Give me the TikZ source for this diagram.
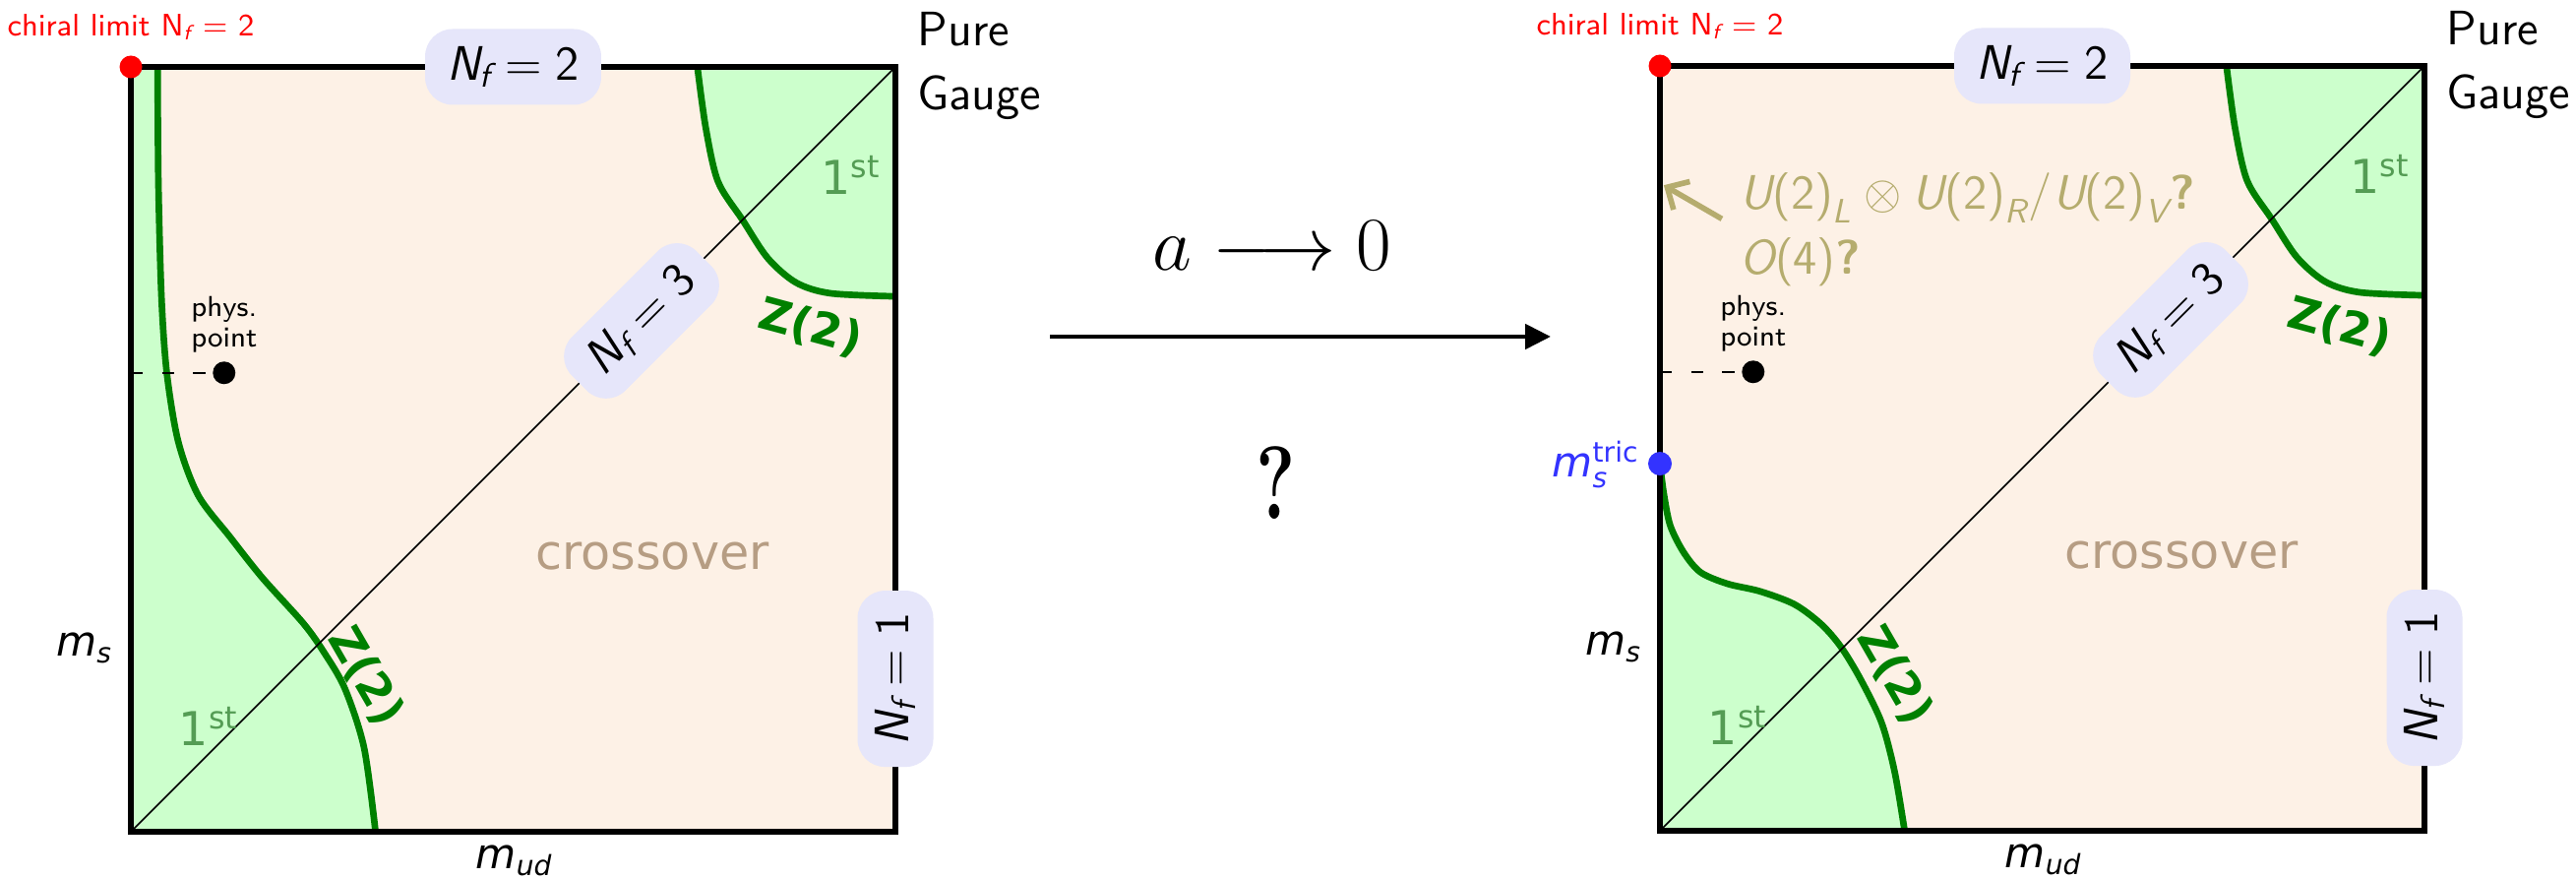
\documentclass[tikz,border=0pt]{standalone}
\usepackage{fix-cm}
\usepackage{amsmath}
\usepackage{fontspec}
\newfontfamily\dejavu{DejaVu Sans}[ItalicFont={DejaVu Sans Oblique},BoldFont={DejaVu Sans Bold},BoldItalicFont={DejaVu Sans Bold Oblique}]
\usetikzlibrary{arrows.meta}
\definecolor{bgpeach}{RGB}{253,241,230}
\definecolor{greenfill}{RGB}{204,255,204}
\definecolor{zgreen}{RGB}{0,128,0}
\definecolor{firstgreen}{RGB}{84,156,84}
\definecolor{crosscol}{RGB}{182,157,131}
\definecolor{lav}{RGB}{230,230,250}
\definecolor{olivec}{RGB}{181,172,110}
\definecolor{tricblue}{RGB}{51,51,255}
\newcommand{\mi}[1]{\text{\sffamily\itshape #1}}
\newcommand{\mr}[1]{\text{\sffamily #1}}
\newcommand{\dm}[1]{\text{\dejavu\itshape #1}}
\newcommand{\Nfeq}[1]{$\mi{N}_{\mi{f}}=\mr{#1}$}
\newcommand{\firstord}{1\raisebox{0.36em}{\fontsize{9}{10}\selectfont st}}
\tikzset{
  nfbox/.style={fill=lav, rounded corners=0.28cm, minimum height=0.77cm, inner xsep=0.22cm, inner ysep=0pt, font=\fontsize{14}{17}\selectfont},
  dotnode/.style={circle, inner sep=0pt, minimum size=0.23cm},
  zcurve/.style={zgreen, line width=1.9pt},
  frame/.style={line width=1.9pt},
  diag/.style={line width=0.45pt},
  firstlbl/.style={text=firstgreen, font=\dejavu\fontsize{13.5}{16}\selectfont, inner sep=0pt},
  zlbl/.style={text=zgreen, font=\dejavu\bfseries\fontsize{13}{15}\selectfont, inner sep=0pt},
  axislbl/.style={font=\fontsize{12}{14}\selectfont, inner sep=0pt},
  physdash/.style={dash pattern=on 3.5pt off 5.5pt, line width=0.7pt},
}
\newcommand{\toprightregion}{%
  \fill[greenfill] (1,1) -- plot[smooth] coordinates {(0.741,1.0) (0.752,0.92) (0.768,0.85) (0.80,0.80) (0.833,0.75) (0.87,0.718) (0.915,0.704) (1.0,0.70)} -- cycle;
  \draw[zcurve] plot[smooth] coordinates {(0.741,1.0) (0.752,0.92) (0.768,0.85) (0.80,0.80) (0.833,0.75) (0.87,0.718) (0.915,0.704) (1.0,0.70)};
}
\newcommand{\frontparts}[1]{%
  \coordinate (#1-bl) at (0,0);
  \coordinate (#1-tr) at (1,1);
  \draw[diag] (#1-bl) -- (#1-tr);
  \draw[frame] (0,0) rectangle (1,1);
  \coordinate (#1-yd) at (0,0.6);
  \node[dotnode, fill=black] (#1-phys) at (0.122,0.6) {};
  \draw[physdash] (#1-yd) -- (#1-phys);
  \node[above=0.2cm, inner sep=0pt, align=center, font=\sffamily\fontsize{8.3}{8.8}\selectfont] (#1-physlbl) at (#1-phys.center) {phys.\\point};
  \node[nfbox] (#1-nf2) at (0.5,1) {\Nfeq{2}};
  \node[nfbox, rotate=45] (#1-nf3) at (0.668,0.668) {\Nfeq{3}};
  \node[nfbox, rotate=90] (#1-nf1) at (1,0.2) {\Nfeq{1}};
  \node[dotnode, fill=red] (#1-chiral) at (0,1) {};
  \node[anchor=base, inner sep=0pt, text=red, font=\sffamily\fontsize{9}{11}\selectfont] (#1-chirallbl) at ([yshift=0.31cm]#1-chiral.center) {chiral limit N$_{\mi{f}}$ = 2};
  \node[anchor=base west, inner sep=0pt, font=\sffamily\fontsize{14}{17}\selectfont] (#1-pure) at ([xshift=0.22cm, yshift=0.21cm]#1-tr) {Pure};
  \node[anchor=base west, inner sep=0pt, font=\sffamily\fontsize{14}{17}\selectfont] (#1-gauge) at ([xshift=0.22cm, yshift=-0.44cm]#1-tr) {Gauge};
  \node[text=crosscol, inner sep=0pt, font=\dejavu\fontsize{14}{17}\selectfont] (#1-cross) at (0.682,0.36) {crossover};
  \node[firstlbl] (#1-firstA) at (0.941,0.858) {\firstord};
  \node[firstlbl] (#1-firstB) at (0.101,0.138) {\firstord};
  \node[zlbl, rotate=-15] (#1-zA) at (0.889,0.659) {Z(2)};
  \node[zlbl, rotate=-60] (#1-zB) at (0.307,0.203) {Z(2)};
  \node[axislbl] (#1-ms) at (-0.0605,0.24) {$\dm{m}_{\dm{s}}$};
  \node[axislbl] (#1-mud) at (0.502,-0.038) {$\dm{m}_{\dm{ud}}$};
}
\begin{document}
\begin{tikzpicture}
\useasboundingbox (0,0) rectangle (26.18,8.93);
\fill[white] (0,0) rectangle (26.18,8.93);

% left diagram
\begin{scope}[shift={(1.33,0.48)}, x=7.77cm, y=7.77cm]
  \fill[bgpeach] (0,0) rectangle (1,1);
  \fill[greenfill] (0,0) -- (0,1) -- plot[smooth] coordinates {(0.035,1.0) (0.036,0.85) (0.040,0.70) (0.047,0.60) (0.062,0.51) (0.088,0.44) (0.13,0.385) (0.172,0.332) (0.226,0.272) (0.253,0.234) (0.28,0.187) (0.305,0.11) (0.32,0)} -- cycle;
  \draw[zcurve] plot[smooth] coordinates {(0.035,1.0) (0.036,0.85) (0.040,0.70) (0.047,0.60) (0.062,0.51) (0.088,0.44) (0.13,0.385) (0.172,0.332) (0.226,0.272) (0.253,0.234) (0.28,0.187) (0.305,0.11) (0.32,0)};
  \toprightregion
  \frontparts{L}
\end{scope}

% right diagram
\begin{scope}[shift={(16.87,0.49)}, x=7.77cm, y=7.77cm]
  \fill[bgpeach] (0,0) rectangle (1,1);
  \fill[greenfill] (0,0) -- plot[smooth] coordinates {(0,0.48) (0.005,0.441) (0.0135,0.399) (0.031,0.364) (0.053,0.338) (0.088,0.323) (0.131,0.313) (0.176,0.296) (0.211,0.27) (0.237,0.24) (0.263,0.197) (0.29,0.141) (0.307,0.077) (0.32,0)} -- cycle;
  \draw[zcurve] plot[smooth] coordinates {(0,0.48) (0.005,0.441) (0.0135,0.399) (0.031,0.364) (0.053,0.338) (0.088,0.323) (0.131,0.313) (0.176,0.296) (0.211,0.27) (0.237,0.24) (0.263,0.197) (0.29,0.141) (0.307,0.077) (0.32,0)};
  \toprightregion
  \frontparts{R}
  \node[dotnode, fill=tricblue, minimum size=0.24cm] (R-tric) at (0,0.48) {};
  \node[inner sep=0pt, text=tricblue, font=\fontsize{12}{14}\selectfont] (R-triclbl) at (-0.0837,0.479) {$\dm{m}_{\dm{s}}^{\text{\dejavu tric}}$};
  \coordinate (R-symtail) at (0.081,0.80);
  \coordinate (R-symtip) at (0.005,0.844);
  \draw[olivec, line width=1.6pt, -{Straight Barb[length=0.17cm, width=0.33cm]}] (R-symtail) -- (R-symtip);
  \node[anchor=base west, inner sep=0pt, text=olivec, font=\sffamily\fontsize{14}{17}\selectfont] (R-sym1) at (0.104,0.813) {$\mi{U}\mr{(2)}_{\mi{L}}\otimes\mi{U}\mr{(2)}_{\mi{R}}/\mi{U}\mr{(2)}_{\mi{V}}$\textbf{?}};
  \node[anchor=base west, inner sep=0pt, text=olivec, font=\sffamily\fontsize{14}{17}\selectfont] (R-sym2) at (0.104,0.728) {$\mi{O}\mr{(4)}$\textbf{?}};
\end{scope}

% middle arrow
\coordinate (arrS) at (10.67,5.51);
\coordinate (arrE) at (15.76,5.51);
\draw[line width=1.4pt, -{Triangle[length=0.26cm, width=0.25cm]}] (arrS) -- (arrE);
\node (alim) at (12.93,6.43) {\fontsize{22}{26}\selectfont $a\longrightarrow 0$};
\node[xscale=0.72] (qmark) at (12.97,4.02) {\fontsize{30}{30}\selectfont\bfseries ?};
\end{tikzpicture}
\end{document}
